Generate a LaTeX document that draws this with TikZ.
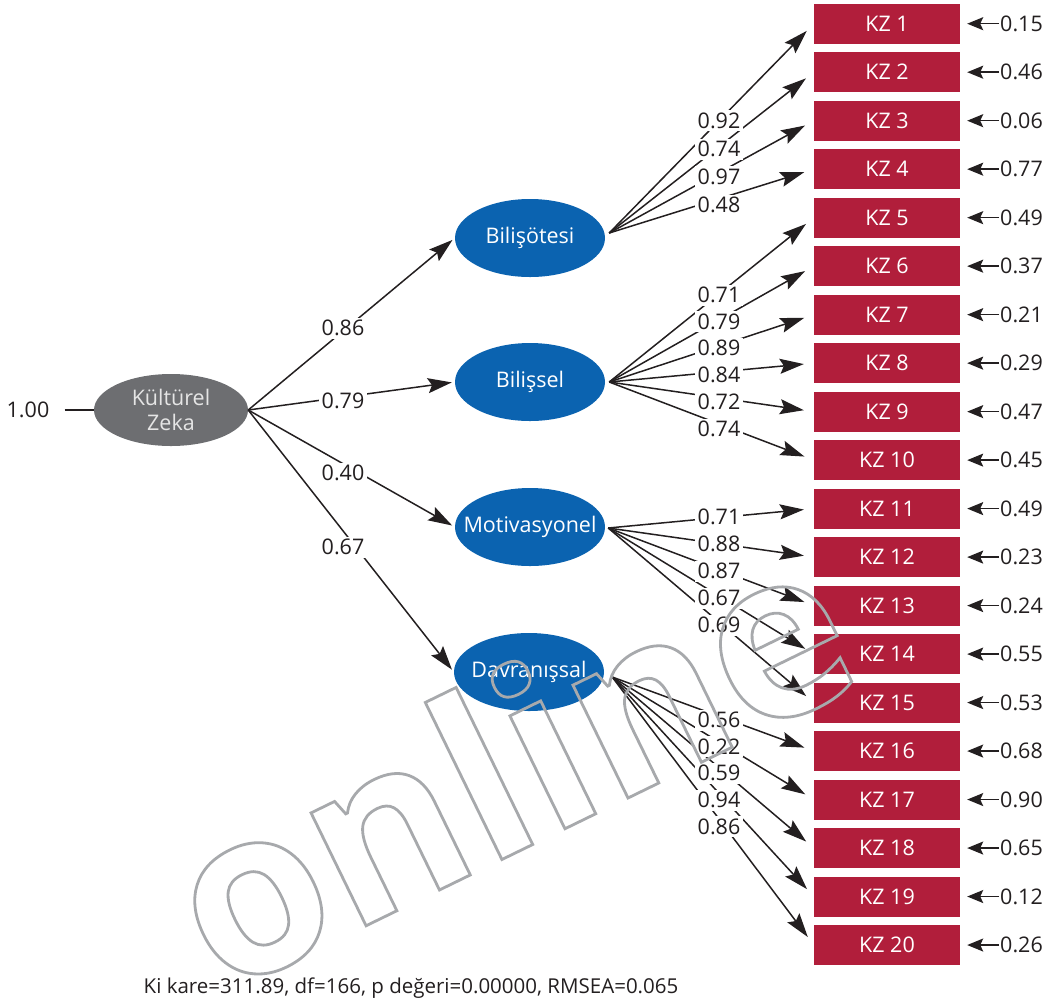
\documentclass[tikz,border=0pt]{standalone}
\usepackage{fontspec}
\setmainfont{Open Sans}
\usetikzlibrary{arrows.meta,shapes.geometric}
\definecolor{kzred}{HTML}{B11E3B}
\definecolor{latblue}{HTML}{0B63B0}
\definecolor{latgray}{HTML}{6D6E71}
\definecolor{ink}{HTML}{231F20}
\definecolor{wmgray}{HTML}{A7A9AC}
\newcommand{\outlinetext}[1]{\special{pdf:literal direct 1 Tr 2.8 w}#1\special{pdf:literal direct 0 Tr}}
\begin{document}
\begin{tikzpicture}[x=1pt,y=-1pt,
  every node/.style={font=\fontsize{21.5}{25}\selectfont, text=ink},
  latshape/.style={ellipse, minimum width=150pt, minimum height=78pt, inner sep=0pt, fill=latblue},
  lattext/.style={text=white, inner sep=0pt, align=center},
  indbox/.style={rectangle, fill=kzred, minimum width=146pt, minimum height=40pt, inner sep=0pt, text=white},
  coef/.style={fill=white, inner sep=3pt, text height=15pt, text depth=0pt},
  errl/.style={anchor=west, inner sep=1pt},
  plain/.style={draw=ink, line width=1.5pt},
  load/.style={draw=ink, line width=1.5pt, -{Stealth[length=24pt,width=15pt,inset=4pt]}, shorten >=10pt},
  path/.style={draw=ink, line width=1.5pt, -{Stealth[length=24pt,width=15pt,inset=4pt]}, shorten >=3pt},
  errarr/.style={draw=ink, line width=1.5pt, -{Stealth[length=16pt,width=13pt,inset=3pt]}, shorten >=7pt}
]
\useasboundingbox (0,0) rectangle (1048,1005);

% latent variables
\node[latshape, fill=latgray, minimum width=154pt, minimum height=72pt] (kz) at (171,410) {};
\node[lattext, text=white!90!black] (kzt) at (kz) {Kültürel\\Zeka};
\node[latshape] (b1) at (530,238) {};
\node[lattext] (b1t) at (b1) {Bilişötesi};
\node[latshape] (b2) at (530,382) {};
\node[lattext] (b2t) at (b2) {Bilişsel};
\node[latshape] (b3) at (530,527) {};
\node[lattext] (b3t) at (b3) {Motivasyonel};
\node[latshape] (b4) at (529,672) {};
\node[lattext] (b4t) at (b4) {Davranışsal};

% variance of KZ
\node[inner sep=0pt] (one) at (28,410) {1.00};
\draw[plain] ([xshift=15]one.east) -- (kz.west);

% indicators and errors
\foreach \i/\e in {1/0.15,2/0.46,3/0.06,4/0.77,5/0.49,6/0.37,7/0.21,8/0.29,9/0.47,10/0.45,11/0.49,12/0.23,13/0.24,14/0.55,15/0.53,16/0.68,17/0.90,18/0.65,19/0.12,20/0.26} {
  \node[indbox] (k\i) at (887,{23.7+(\i-1)*48.49}) {KZ \i};
  \node[errl] (e\i) at (999,{23.7+(\i-1)*48.49}) {\e};
  \draw[errarr] (e\i.west) -- (k\i.east);
}

% sources of loadings
\coordinate (s1) at ([shift={(4,-5)}]b1.east);
\coordinate (s2) at ([shift={(4,0)}]b2.east);
\coordinate (s3) at ([shift={(3,1)}]b3.east);
\coordinate (s4) at ([shift={(8,5)}]b4.east);

% structural paths
\draw[path] (kz.east) -- (b1.west);
\draw[path] (kz.east) -- (b2.west);
\draw[path] (kz.east) -- (b3.west);
\draw[path] (kz.east) -- (b4.west);

% loadings
\foreach \s/\k in {s1/1,s1/2,s1/3,s1/4,s2/5,s2/6,s2/7,s2/8,s2/9,s2/10,s3/11,s3/12,s3/13,s3/14,s3/15,s4/16,s4/17,s4/18,s4/19,s4/20} {
  \draw[load] (\s) -- (k\k.west);
}

% coefficient labels
\node[coef] (c1) at (343,328) {0.86};
\node[coef] (c2) at (343,401) {0.79};
\node[coef] (c3) at (343,473) {0.40};
\node[coef] (c4) at (343,547) {0.67};
\foreach \k/\v/\y in {1/0.92/120.7,2/0.74/149.3,3/0.97/176.7,4/0.48/205,
  5/0.71/295,6/0.79/321.7,7/0.89/348.3,8/0.84/375,9/0.72/402.3,10/0.74/429.3,
  11/0.71/517.3,12/0.88/544.3,13/0.87/571,14/0.67/598.3,15/0.69/625,
  16/0.56/720,17/0.22/746.7,18/0.59/773.3,19/0.94/800,20/0.86/826.7} {
  \node[coef] (l\k) at (719,\y) {\v};
}

% fit statistics
\node[font=\fontsize{20.5}{24}\selectfont] (fit) at (411,988) {Ki kare=311.89, df=166, p değeri=0.00000, RMSEA=0.065};

% watermark
\node[rotate=26, anchor=base, inner sep=0pt, text=wmgray] (wm) at (546,838)
  {\fontsize{230}{230}\selectfont\bfseries\outlinetext{online}};
\end{tikzpicture}
\end{document}
